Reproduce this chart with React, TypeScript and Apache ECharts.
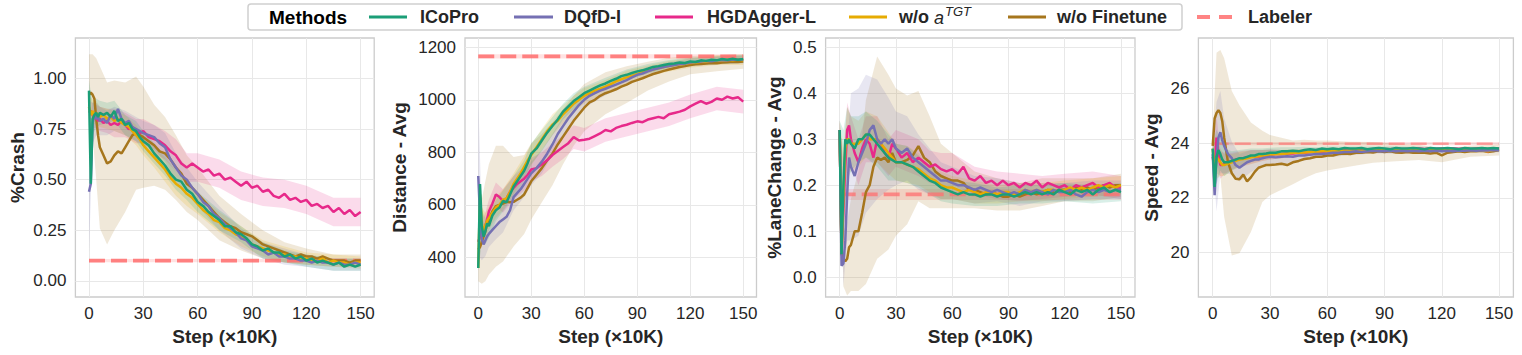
import React, { useEffect, useRef } from "react";
import * as echarts from "echarts";

const steps = [0,1,2,3,4,5,6,8,10,12,
  14,16,18,20,22,24,26,28,30,33,
  36,39,42,45,48,51,54,57,60,63,
  66,69,72,75,78,81,84,87,90,93,
  96,99,102,105,108,111,114,117,120,123,
  126,129,132,135,138,141,144,147,150];
const bandSteps = [0,2,4,6,10,14,20,26,30,36,42,48,54,60,72,84,96,108,120,135,150];

const methods = ["ICoPro", "DQfD-I", "HGDAgger-L", "w/o aTGT", "w/o Finetune"];
const colors = ["#1b9e77", "#7570b3", "#e7298a", "#e6ab02", "#a6761d"];
const xTicks = [0, 30, 60, 90, 120, 150];

// ---- %Crash
const crashICoPro = [0.94,0.48,0.80,0.82,0.83,0.81,0.83,0.82,0.83,0.81,
  0.84,0.79,0.80,0.77,0.78,0.75,0.74,0.71,0.69,0.67,
  0.63,0.60,0.57,0.53,0.50,0.49,0.45,0.43,0.39,0.37,
  0.34,0.32,0.30,0.27,0.27,0.24,0.23,0.21,0.18,0.17,
  0.15,0.16,0.14,0.14,0.12,0.13,0.11,0.12,0.10,0.11,
  0.09,0.10,0.09,0.08,0.09,0.07,0.08,0.07,0.08];
const crashDQfD = [0.44,0.48,0.78,0.82,0.80,0.81,0.79,0.80,0.78,0.82,
  0.80,0.85,0.80,0.78,0.79,0.76,0.75,0.74,0.73,0.72,
  0.71,0.68,0.66,0.60,0.56,0.52,0.50,0.46,0.43,0.39,
  0.37,0.33,0.31,0.28,0.26,0.24,0.21,0.20,0.17,0.16,
  0.15,0.13,0.14,0.12,0.12,0.11,0.11,0.10,0.10,0.09,
  0.10,0.09,0.09,0.08,0.09,0.08,0.08,0.09,0.08];
const crashHGD = [0.83,0.84,0.82,0.80,0.81,0.79,0.80,0.78,0.79,0.77,
  0.78,0.77,0.79,0.77,0.75,0.76,0.74,0.73,0.74,0.71,
  0.70,0.69,0.67,0.64,0.62,0.58,0.56,0.58,0.56,0.54,
  0.55,0.52,0.53,0.50,0.51,0.49,0.47,0.49,0.46,0.47,
  0.44,0.45,0.42,0.41,0.43,0.40,0.41,0.39,0.40,0.37,
  0.38,0.36,0.37,0.34,0.36,0.33,0.35,0.32,0.34];
const crashNoTGT = [0.86,0.82,0.84,0.80,0.83,0.82,0.81,0.82,0.80,0.81,
  0.79,0.80,0.78,0.77,0.76,0.74,0.72,0.70,0.67,0.64,
  0.61,0.58,0.55,0.51,0.48,0.46,0.43,0.41,0.38,0.35,
  0.33,0.30,0.29,0.26,0.25,0.23,0.22,0.20,0.18,0.17,
  0.16,0.15,0.14,0.13,0.13,0.12,0.12,0.11,0.11,0.10,
  0.10,0.11,0.09,0.10,0.09,0.09,0.08,0.09,0.09];
const crashNoFT = [0.92,0.93,0.92,0.90,0.80,0.72,0.66,0.62,0.58,0.59,
  0.62,0.64,0.63,0.66,0.69,0.72,0.73,0.72,0.71,0.69,
  0.67,0.64,0.63,0.60,0.56,0.53,0.48,0.46,0.43,0.40,
  0.37,0.34,0.31,0.29,0.27,0.26,0.24,0.23,0.22,0.20,
  0.18,0.17,0.16,0.15,0.14,0.13,0.12,0.13,0.12,0.12,
  0.11,0.12,0.11,0.10,0.10,0.10,0.09,0.10,0.10];
const crashSdICoPro = [0.05,0.08,0.07,0.06,0.05,0.05,0.05,0.05,0.05,0.05,0.05,0.05,0.05,0.05,0.05,0.04,0.04,0.03,0.03,0.03,0.03];
const crashSdDQfD = [0.3,0.1,0.08,0.07,0.06,0.06,0.06,0.06,0.06,0.06,0.07,0.07,0.06,0.06,0.06,0.05,0.04,0.04,0.03,0.03,0.03];
const crashSdHGD = [0.06,0.06,0.06,0.06,0.06,0.07,0.06,0.06,0.06,0.07,0.07,0.08,0.07,0.07,0.07,0.07,0.07,0.07,0.07,0.07,0.07];
const crashSdNoTGT = [0.05,0.06,0.06,0.05,0.05,0.05,0.05,0.05,0.05,0.05,0.06,0.06,0.06,0.05,0.05,0.05,0.04,0.04,0.03,0.03,0.03];
const crashSdNoFT = [0.2,0.2,0.3,0.4,0.4,0.37,0.32,0.28,0.25,0.2,0.18,0.16,0.14,0.13,0.11,0.09,0.07,0.05,0.04,0.03,0.03];

// ---- Distance
const distICoPro = [360,680,520,480,500,530,520,560,580,590,
  615,610,640,670,690,710,730,760,795,815,
  845,875,900,925,955,975,995,1010,1025,1035,
  1045,1055,1062,1072,1080,1090,1095,1102,1108,1112,
  1118,1125,1128,1132,1136,1138,1142,1140,1146,1144,
  1150,1148,1152,1150,1155,1152,1156,1152,1155];
const distDQfD = [710,560,470,450,465,480,490,505,520,535,
  545,555,580,630,645,660,680,700,720,740,
  765,795,830,870,900,930,955,980,1000,1015,
  1025,1035,1042,1050,1058,1066,1075,1085,1095,1100,
  1108,1115,1120,1125,1128,1132,1136,1138,1142,1144,
  1146,1148,1147,1150,1151,1150,1153,1152,1153];
const distHGD = [460,480,495,505,520,545,575,605,640,630,
  615,625,650,665,680,690,700,715,735,740,
  755,770,790,805,820,835,858,845,848,852,
  862,872,885,880,893,900,905,912,918,915,
  925,930,935,930,945,950,955,962,975,985,
  995,985,992,1005,1000,1012,1005,1010,993];
const distNoTGT = [360,640,530,500,520,540,550,570,590,600,
  620,625,650,680,700,720,745,770,790,820,
  850,880,905,920,945,965,985,1000,1015,1025,
  1035,1042,1050,1060,1070,1078,1085,1092,1098,1105,
  1110,1115,1120,1125,1128,1132,1135,1138,1140,1142,
  1145,1146,1148,1150,1148,1152,1150,1153,1150];
const distNoFT = [430,440,460,480,500,530,545,575,595,600,
  605,612,610,612,620,628,640,665,690,715,
  740,770,795,830,860,890,920,945,970,990,
  1000,1015,1025,1032,1040,1050,1058,1068,1075,1082,
  1090,1098,1104,1110,1115,1120,1125,1128,1132,1135,
  1136,1138,1140,1139,1142,1143,1145,1144,1146];
const distSdICoPro = [10,60,50,45,40,40,40,40,40,40,35,30,30,25,22,20,18,15,15,15,15];
const distSdDQfD = [300,80,60,50,50,50,50,50,45,45,40,35,30,30,25,20,18,15,15,15,15];
const distSdHGD = [30,50,50,45,45,45,45,45,45,45,45,45,45,45,45,45,45,45,45,45,45];
const distSdNoTGT = [10,60,50,45,40,40,40,40,40,40,40,35,30,30,25,25,20,20,18,18,18];
const distSdNoFT = [120,160,190,210,230,220,170,150,145,130,120,105,95,90,80,70,55,45,35,30,28];

// ---- %LaneChange
const laneICoPro = [0.32,0.05,0.20,0.30,0.29,0.30,0.29,0.28,0.30,0.30,
  0.31,0.31,0.30,0.29,0.28,0.27,0.26,0.255,0.25,0.25,
  0.245,0.24,0.23,0.22,0.21,0.205,0.195,0.19,0.185,0.18,
  0.185,0.18,0.18,0.175,0.18,0.18,0.175,0.18,0.18,0.175,
  0.18,0.185,0.18,0.185,0.18,0.185,0.18,0.19,0.185,0.18,
  0.19,0.185,0.19,0.18,0.19,0.195,0.185,0.19,0.185];
const laneDQfD = [0.32,0.025,0.03,0.08,0.18,0.26,0.24,0.22,0.25,0.27,
  0.29,0.32,0.33,0.30,0.29,0.30,0.29,0.30,0.28,0.27,
  0.28,0.26,0.25,0.24,0.23,0.22,0.21,0.21,0.205,0.20,
  0.20,0.195,0.19,0.195,0.19,0.185,0.19,0.185,0.18,0.185,
  0.18,0.19,0.185,0.19,0.185,0.18,0.19,0.185,0.185,0.19,
  0.18,0.175,0.185,0.19,0.185,0.19,0.185,0.19,0.19];
const laneHGD = [0.32,0.05,0.15,0.24,0.32,0.33,0.30,0.27,0.25,0.28,
  0.30,0.29,0.26,0.30,0.29,0.27,0.26,0.29,0.28,0.26,
  0.27,0.25,0.26,0.25,0.24,0.245,0.235,0.23,0.235,0.225,
  0.24,0.215,0.21,0.22,0.205,0.21,0.20,0.21,0.20,0.205,
  0.195,0.205,0.20,0.21,0.195,0.205,0.20,0.195,0.20,0.19,
  0.20,0.195,0.20,0.205,0.195,0.20,0.205,0.195,0.195];
const laneNoTGT = [0.32,0.05,0.18,0.28,0.30,0.30,0.29,0.29,0.29,0.30,
  0.31,0.30,0.30,0.30,0.29,0.28,0.27,0.26,0.25,0.25,
  0.245,0.24,0.235,0.225,0.215,0.21,0.20,0.195,0.195,0.19,
  0.185,0.19,0.185,0.18,0.185,0.185,0.18,0.185,0.185,0.18,
  0.185,0.19,0.185,0.19,0.185,0.19,0.19,0.185,0.19,0.195,
  0.19,0.195,0.19,0.195,0.20,0.195,0.20,0.195,0.20];
const laneNoFT = [0.32,0.05,0.04,0.035,0.04,0.065,0.07,0.10,0.10,0.14,
  0.185,0.20,0.24,0.26,0.255,0.26,0.25,0.27,0.25,0.25,
  0.255,0.265,0.285,0.26,0.25,0.23,0.22,0.215,0.21,0.21,
  0.205,0.19,0.19,0.185,0.18,0.185,0.18,0.175,0.175,0.18,
  0.175,0.18,0.185,0.18,0.185,0.19,0.185,0.19,0.19,0.185,
  0.195,0.19,0.195,0.19,0.195,0.20,0.195,0.20,0.20];
const laneSdICoPro = [0.02,0.12,0.08,0.06,0.05,0.05,0.05,0.05,0.04,0.04,0.035,0.03,0.03,0.025,0.025,0.02,0.02,0.02,0.02,0.02,0.02];
const laneSdDQfD = [0.02,0.05,0.1,0.16,0.16,0.15,0.13,0.1,0.08,0.07,0.06,0.05,0.04,0.035,0.03,0.025,0.025,0.02,0.02,0.02,0.02];
const laneSdHGD = [0.02,0.1,0.06,0.05,0.05,0.05,0.05,0.04,0.04,0.04,0.04,0.035,0.035,0.035,0.03,0.03,0.03,0.025,0.025,0.025,0.025];
const laneSdNoTGT = [0.02,0.1,0.07,0.06,0.05,0.05,0.05,0.045,0.04,0.04,0.035,0.03,0.03,0.025,0.025,0.02,0.02,0.02,0.02,0.02,0.02];
const laneSdNoFT = [0.02,0.06,0.08,0.1,0.13,0.2,0.22,0.19,0.16,0.14,0.12,0.1,0.07,0.06,0.04,0.035,0.03,0.03,0.025,0.025,0.025];

// ---- Speed
const speedICoPro = [23.8,22.4,23.5,23.75,23.6,23.4,23.3,23.3,23.35,23.4,
  23.45,23.45,23.5,23.55,23.55,23.6,23.6,23.62,23.65,23.65,
  23.7,23.7,23.72,23.7,23.75,23.78,23.75,23.8,23.78,23.8,
  23.78,23.82,23.8,23.8,23.82,23.78,23.8,23.82,23.8,23.78,
  23.82,23.8,23.8,23.82,23.8,23.78,23.82,23.8,23.8,23.82,
  23.8,23.78,23.82,23.8,23.8,23.82,23.8,23.82,23.8];
const speedDQfD = [23.6,22.1,23.5,24.2,24.4,24.1,23.9,23.6,23.45,23.2,
  23.1,23.2,23.3,23.35,23.4,23.4,23.45,23.48,23.5,23.48,
  23.5,23.52,23.5,23.55,23.55,23.58,23.6,23.6,23.62,23.65,
  23.65,23.68,23.68,23.7,23.68,23.7,23.72,23.7,23.7,23.72,
  23.7,23.72,23.7,23.72,23.7,23.72,23.7,23.72,23.7,23.72,
  23.7,23.73,23.72,23.74,23.72,23.74,23.73,23.75,23.74];
const speedHGD = [23.5,23.0,24.2,23.6,23.2,23.2,23.25,23.3,23.35,23.4,
  23.42,23.45,23.48,23.5,23.52,23.5,23.55,23.55,23.58,23.6,
  23.6,23.62,23.62,23.65,23.65,23.68,23.7,23.68,23.7,23.72,
  23.72,23.74,23.72,23.75,23.74,23.76,23.75,23.77,23.78,23.76,
  23.78,23.77,23.79,23.78,23.8,23.78,23.8,23.79,23.8,23.78,
  23.8,23.79,23.8,23.78,23.8,23.79,23.7,23.8,23.8];
const speedNoTGT = [23.8,23.0,23.5,23.4,23.3,23.2,23.2,23.25,23.3,23.35,
  23.4,23.42,23.45,23.48,23.5,23.52,23.55,23.55,23.58,23.6,
  23.6,23.62,23.65,23.65,23.66,23.68,23.68,23.7,23.7,23.72,
  23.7,23.72,23.72,23.74,23.72,23.74,23.75,23.73,23.75,23.74,
  23.76,23.74,23.75,23.76,23.74,23.75,23.76,23.74,23.75,23.74,
  23.76,23.75,23.74,23.76,23.75,23.74,23.7,23.75,23.76];
const speedNoFT = [23.9,24.9,25.1,25.2,25.1,24.8,24.2,23.3,22.9,22.7,
  22.68,22.85,22.6,22.75,22.95,23.1,23.15,23.2,23.2,23.22,
  23.25,23.2,23.3,23.35,23.42,23.45,23.5,23.5,23.55,23.55,
  23.6,23.62,23.6,23.65,23.65,23.68,23.66,23.7,23.68,23.7,
  23.66,23.65,23.68,23.65,23.66,23.65,23.62,23.65,23.55,23.65,
  23.68,23.7,23.68,23.7,23.7,23.72,23.68,23.7,23.75];
const speedSdICoPro = [0.1,1.0,0.6,0.5,0.35,0.3,0.25,0.2,0.18,0.15,0.13,0.12,0.1,0.1,0.08,0.08,0.07,0.07,0.06,0.06,0.06];
const speedSdDQfD = [0.1,2.0,1.5,1.0,0.6,0.5,0.4,0.3,0.28,0.25,0.2,0.18,0.15,0.14,0.12,0.1,0.09,0.08,0.08,0.07,0.07];
const speedSdHGD = [0.1,0.8,0.5,0.4,0.3,0.28,0.25,0.2,0.18,0.15,0.13,0.12,0.1,0.1,0.08,0.08,0.07,0.07,0.06,0.06,0.06];
const speedSdNoTGT = [0.1,0.8,0.5,0.4,0.3,0.28,0.25,0.2,0.18,0.15,0.13,0.12,0.1,0.1,0.08,0.08,0.07,0.07,0.06,0.06,0.06];
const speedSdNoFT = [0.4,2.2,2.3,2.9,3.0,2.7,2.0,1.3,1.1,0.95,0.8,0.7,0.6,0.55,0.45,0.38,0.32,0.28,0.25,0.2,0.2];

// Labeler reference (mean and spread) per panel
const labelerValues = [0.10, 1165, 0.18, 23.98];
const labelerSpread = [0.008, 8, 0.012, 0.06];

const yNames = ["%Crash", "Distance - Avg", "%LaneChange - Avg", "Speed - Avg"];
const yTicks = [[0, 0.25, 0.5, 0.75, 1.0], [400, 600, 800, 1000, 1200], [0, 0.1, 0.2, 0.3, 0.4, 0.5], [20, 22, 24, 26]];
const yDigits = [2, 0, 1, 0];
const panelLines = [
  [crashICoPro, crashDQfD, crashHGD, crashNoTGT, crashNoFT],
  [distICoPro, distDQfD, distHGD, distNoTGT, distNoFT],
  [laneICoPro, laneDQfD, laneHGD, laneNoTGT, laneNoFT],
  [speedICoPro, speedDQfD, speedHGD, speedNoTGT, speedNoFT],
];
const panelSds = [
  [crashSdICoPro, crashSdDQfD, crashSdHGD, crashSdNoTGT, crashSdNoFT],
  [distSdICoPro, distSdDQfD, distSdHGD, distSdNoTGT, distSdNoFT],
  [laneSdICoPro, laneSdDQfD, laneSdHGD, laneSdNoTGT, laneSdNoFT],
  [speedSdICoPro, speedSdDQfD, speedSdHGD, speedSdNoTGT, speedSdNoFT],
];

// layout
const gridLayout = [
  { left: 75.4, width: 298.8, yMin: -0.08, yMax: 1.2, gap: 48, labelerWidth: 3.6, labelerOpacity: 0.85 },
  { left: 465, width: 291.5, yMin: 250, yMax: 1235, gap: 56, labelerWidth: 3.6, labelerOpacity: 0.85 },
  { left: 825.6, width: 309.4, yMin: -0.043, yMax: 0.52, gap: 42, labelerWidth: 3.6, labelerOpacity: 0.75 },
  { left: 1198.4, width: 315, yMin: 18.38, yMax: 27.84, gap: 37, labelerWidth: 2.4, labelerOpacity: 0.6 },
];
const drawOrder = [4, 2, 3, 1, 0];
const FONT = "Liberation Sans, Arial, sans-serif";
const LABELER_COLOR = "#ff6f6f";

function bandSeries(p: number, rows: number[][], fill: string) {
  return {
    type: "custom",
    xAxisIndex: p,
    yAxisIndex: p,
    silent: true,
    clip: true,
    data: rows,
    encode: { x: 0, y: [1, 2] },
    renderItem: (params: any, api: any) => {
      if (params.dataIndex !== 0) return null;
      const top = rows.map((r) => api.coord([r[0], r[2]]));
      const bot = rows.map((r) => api.coord([r[0], r[1]])).reverse();
      return { type: "polygon", shape: { points: top.concat(bot) }, style: { fill } };
    },
  };
}

function buildOption() {
  const grids: any[] = [];
  const xAxes: any[] = [];
  const yAxes: any[] = [];
  const series: any[] = [];
  gridLayout.forEach((g, p) => {
    grids.push({ left: g.left, top: 38, width: g.width, height: 259, show: true, borderColor: "#cccccc", borderWidth: 1.3, backgroundColor: "#ffffff" });
    xAxes.push({
      type: "value", gridIndex: p, min: -7.5, max: 157.5,
      name: "Step (×10K)", nameLocation: "middle", nameGap: 22,
      nameTextStyle: { fontSize: 19, fontWeight: "bold", color: "#262626", fontFamily: FONT },
      axisLine: { show: false },
      axisTick: { show: false, customValues: xTicks },
      axisLabel: { customValues: xTicks, fontSize: 17, color: "#262626", fontFamily: FONT, margin: 8 },
      splitLine: { show: true, lineStyle: { color: "#e8e8e8", width: 1 } },
    });
    yAxes.push({
      type: "value", gridIndex: p, min: g.yMin, max: g.yMax,
      name: yNames[p], nameLocation: "middle", nameGap: g.gap,
      nameTextStyle: { fontSize: 19, fontWeight: "bold", color: "#262626", fontFamily: FONT },
      axisLine: { show: false },
      axisTick: { show: false, customValues: yTicks[p] },
      axisLabel: { customValues: yTicks[p], fontSize: 17, color: "#262626", fontFamily: FONT, margin: 9,
        formatter: (v: number) => v.toFixed(yDigits[p]) },
      splitLine: { show: true, lineStyle: { color: "#e8e8e8", width: 1 } },
    });
    // labeler band + line
    const lv = labelerValues[p];
    const ls = labelerSpread[p];
    series.push(bandSeries(p, [[0, lv - ls, lv + ls], [150, lv - ls, lv + ls]], "rgba(255,111,111,0.2)"));
    series.push({
      type: "line", xAxisIndex: p, yAxisIndex: p, silent: true, showSymbol: false, symbol: "none",
      data: [[0, lv], [150, lv]],
      lineStyle: { color: LABELER_COLOR, width: g.labelerWidth, type: [16, 6], opacity: g.labelerOpacity },
    });
    // bands
    drawOrder.forEach((m) => {
      const vals = panelLines[p][m];
      const sd = panelSds[p][m];
      const rows = bandSteps.map((x, k) => {
        const v = vals[steps.indexOf(x)];
        return [x, v - sd[k], v + sd[k]];
      });
      series.push(bandSeries(p, rows, echarts.color.modifyAlpha(colors[m], 0.17)));
    });
    // lines
    drawOrder.forEach((m) => {
      const vals = panelLines[p][m];
      series.push({
        type: "line", name: methods[m], xAxisIndex: p, yAxisIndex: p, silent: true,
        showSymbol: false, symbol: "none", clip: true,
        data: steps.map((x, i) => [x, vals[i]]),
        lineStyle: { color: colors[m], width: 2.5 },
        itemStyle: { color: colors[m] },
      });
    });
  });

  // legend drawn as graphic
  const legendY = 17;
  const legendLines = [[369, 407], [514, 553], [655, 693], [849, 887], [1008, 1046]];
  const legendTextX = [420, 564, 707, 899, 1057];
  const graphic: any[] = [
    { type: "rect", shape: { x: 248, y: 4, width: 934, height: 26, r: 3 }, style: { fill: "#ffffff", stroke: "#d0d0d0", lineWidth: 1.5 } },
    { type: "text", x: 269, y: legendY, style: { text: "Methods", fontSize: 19, fontWeight: "bold", fill: "#000000", fontFamily: FONT, verticalAlign: "middle" } },
  ];
  methods.forEach((name, m) => {
    graphic.push({ type: "line", shape: { x1: legendLines[m][0], y1: legendY, x2: legendLines[m][1], y2: legendY }, style: { stroke: colors[m], lineWidth: 3 } });
    if (m === 3) {
      graphic.push({ type: "text", x: legendTextX[m], y: legendY, style: { text: "w/o ", fontSize: 18, fontWeight: "bold", fill: "#262626", fontFamily: FONT, verticalAlign: "middle" } });
      graphic.push({ type: "text", x: legendTextX[m] + 35, y: legendY + 1, style: { text: "a", fontSize: 18, fontStyle: "italic", fill: "#262626", fontFamily: FONT, verticalAlign: "middle" } });
      graphic.push({ type: "text", x: legendTextX[m] + 46, y: legendY - 6, style: { text: "TGT", fontSize: 13, fontStyle: "italic", fill: "#262626", fontFamily: FONT, verticalAlign: "middle" } });
    } else {
      graphic.push({ type: "text", x: legendTextX[m], y: legendY, style: { text: name, fontSize: 18, fontWeight: "bold", fill: "#262626", fontFamily: FONT, verticalAlign: "middle" } });
    }
  });
  graphic.push({ type: "line", shape: { x1: 1197, y1: legendY, x2: 1233, y2: legendY }, style: { stroke: LABELER_COLOR, lineWidth: 4, lineDash: [13, 9], opacity: 0.85 } });
  graphic.push({ type: "text", x: 1248, y: legendY, style: { text: "Labeler", fontSize: 18, fontWeight: "bold", fill: "#262626", fontFamily: FONT, verticalAlign: "middle" } });

  return {
    animation: false,
    backgroundColor: "#ffffff",
    grid: grids,
    xAxis: xAxes,
    yAxis: yAxes,
    series,
    graphic,
  };
}

export default function App() {
  const ref = useRef<HTMLDivElement>(null);
  useEffect(() => {
    if (!ref.current) return;
    const chart = echarts.init(ref.current, undefined, { renderer: "svg" });
    chart.setOption(buildOption() as any);
    return () => chart.dispose();
  }, []);
  return <div ref={ref} style={{ position: "absolute", left: 0, top: 0, width: 1522, height: 355 }} />;
}
